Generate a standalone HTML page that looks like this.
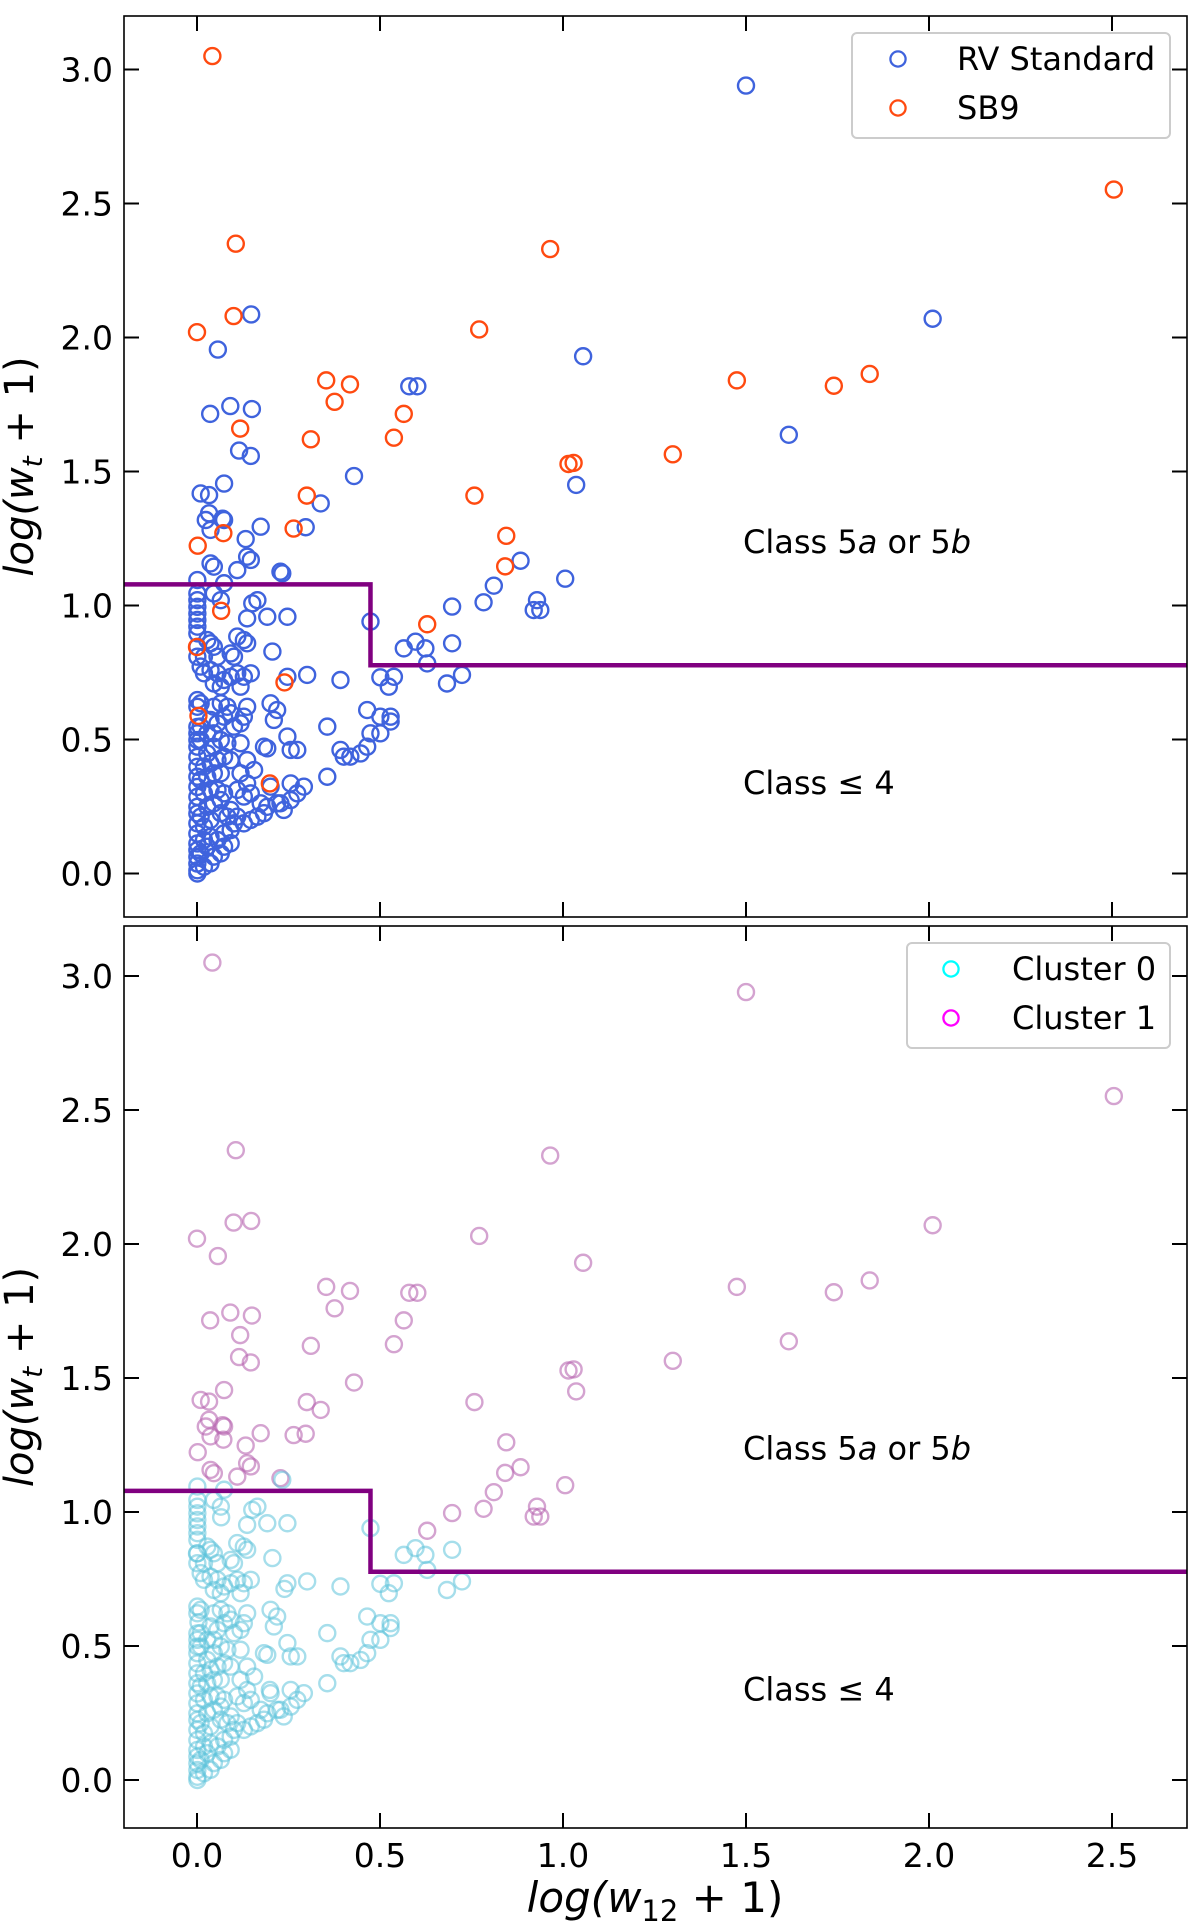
<!DOCTYPE html>
<html><head><meta charset="utf-8"><style>
html,body{margin:0;padding:0;background:#fff;}
svg{display:block;font-family:"DejaVu Sans","Liberation Sans",sans-serif;}
</style></head><body>
<svg id="chart" width="1200" height="1922" viewBox="0 0 1200 1922" xmlns="http://www.w3.org/2000/svg"></svg>
<script>
const rvX=[0.001,0.001,0.001,0.001,0.001,0.001,0.001,0.001,0.001,0.001,0.001,0.001,0.001,0.001,0.001,0.001,0.001,0.001,0.001,0.001,0.001,0.001,0.001,0.001,0.001,0.001,0.001,0.001,0.001,0.001,0.001,
0.019,0.037,0.046,0.065,0.074,0.092,0.028,0.01,0.019,0.037,0.056,0.074,0.092,0.101,0.083,0.065,0.037,0.019,0.01,0.028,0.046,0.065,0.019,0.037,0.056,0.074,0.01,0.028,0.046,0.065,0.019,0.037,0.056,0.074,0.092,0.028,0.046,0.065,0.083,0.01,0.028,0.046,0.119,0.137,0.156,0.119,0.137,0.11,0.128,0.147,0.092,0.11,0.128,0.147,0.165,0.183,0.192,0.219,0.237,0.256,0.274,0.292,0.256,0.228,0.201,0.174,0.183,0.192,0.256,0.274,0.247,0.21,0.219,0.201,0.101,0.119,0.128,0.137,0.083,0.065,0.046,0.01,0.01,0.037,0.056,0.074,0.092,0.356,0.392,0.401,0.419,0.447,0.465,0.474,0.501,0.465,0.501,0.529,0.529,0.356,
0.01,0.019,0.037,0.056,0.046,0.065,0.074,0.092,0.11,0.119,0.128,0.147,0.092,0.101,0.11,0.128,0.137,0.037,0.028,0.046,0.056,0.019,0.192,0.247,0.137,0.206,0.247,0.301,0.392,0.151,0.165,0.065,0.046,0.11,0.046,0.037,0.147,0.137,0.228,0.233,0.074,
0.01,0.033,0.074,0.115,0.147,0.033,0.024,0.037,0.074,0.133,0.174,0.338,0.297,0.429,0.07,
0.474,0.565,0.597,0.624,0.629,0.697,0.501,0.538,0.524,0.683,0.724,0.697,0.783,0.811,0.884,0.929,0.92,0.938,
1.5,2.01,1.617,1.055,1.036,1.006,0.58,0.602,0.148,0.057,0.036,0.091,0.15];
const rvY=[0.0,0.012,0.037,0.062,0.087,0.112,0.149,0.187,0.224,0.249,0.286,0.323,0.361,0.398,0.435,0.473,0.498,0.523,0.547,0.622,0.647,0.809,0.846,0.896,0.921,0.946,0.970,0.995,1.02,1.045,1.095,
0.025,0.038,0.063,0.075,0.1,0.113,0.1,0.075,0.125,0.137,0.125,0.15,0.162,0.187,0.212,0.225,0.2,0.175,0.212,0.249,0.262,0.274,0.299,0.312,0.312,0.299,0.349,0.361,0.374,0.374,0.399,0.411,0.423,0.436,0.423,0.448,0.473,0.498,0.486,0.498,0.523,0.523,0.486,0.423,0.386,0.374,0.336,0.312,0.287,0.299,0.237,0.212,0.187,0.2,0.212,0.225,0.249,0.262,0.237,0.336,0.299,0.324,0.274,0.262,0.324,0.262,0.473,0.467,0.461,0.461,0.511,0.573,0.61,0.635,0.548,0.56,0.585,0.622,0.622,0.635,0.622,0.635,0.548,0.573,0.56,0.585,0.598,0.548,0.461,0.436,0.436,0.448,0.473,0.523,0.523,0.61,0.585,0.585,0.567,0.361,
0.772,0.747,0.759,0.747,0.709,0.697,0.722,0.734,0.747,0.697,0.734,0.747,0.821,0.809,0.884,0.871,0.859,0.859,0.871,0.846,0.809,0.809,0.958,0.958,0.952,0.828,0.734,0.741,0.722,1.008,1.02,1.02,1.045,1.132,1.145,1.157,1.17,1.182,1.126,1.12,1.083,
1.418,1.412,1.455,1.578,1.558,1.344,1.319,1.282,1.319,1.248,1.294,1.381,1.292,1.483,1.324,
0.94,0.84,0.865,0.84,0.784,0.859,0.732,0.734,0.697,0.709,0.741,0.996,1.012,1.074,1.167,1.02,0.983,0.983,
2.94,2.07,1.637,1.93,1.45,1.10,1.818,1.818,2.086,1.955,1.715,1.744,1.733];
const sbX=[0.042,0.106,0.10,0.0,0.965,0.771,0.353,0.418,0.376,0.565,0.538,0.118,0.311,0.30,0.264,0.072,0.002,0.066,0.0,0.004,0.239,0.199,0.629,0.758,0.845,0.842,1.015,1.029,1.3,1.475,1.74,1.838,2.505];
const sbY=[3.05,2.35,2.08,2.02,2.33,2.03,1.84,1.825,1.76,1.715,1.626,1.66,1.62,1.41,1.287,1.27,1.223,0.98,0.845,0.588,0.713,0.336,0.93,1.41,1.26,1.146,1.528,1.532,1.564,1.84,1.82,1.864,2.552];
const xTicks=[0.0,0.5,1.0,1.5,2.0,2.5];
const xTickLabels=["0.0","0.5","1.0","1.5","2.0","2.5"];
const yTicks=[0.0,0.5,1.0,1.5,2.0,2.5,3.0];
const yTickLabels=["0.0","0.5","1.0","1.5","2.0","2.5","3.0"];
const boundaryX=[-0.2,0.474,0.474,2.71];
const boundaryY=[1.079,1.079,0.777,0.777];

const NS="http://www.w3.org/2000/svg";
const svg=document.getElementById('chart');
function mk(tag,attrs,parent){const e=document.createElementNS(NS,tag);for(const k in attrs)e.setAttribute(k,attrs[k]);(parent||svg).appendChild(e);return e;}
const L=124,R=1187;
const xS=v=>197+v*366;
const panels=[{top:16,bot:917,y0:873.5,name:'top'},{top:926,bot:1828,y0:1780,name:'bottom'}];

panels.forEach((p,pi)=>{
  const yS=v=>p.y0-v*268;
  const g=mk('g',{});
  
  
  const cid='clip'+pi;
  const cp=mk('clipPath',{id:cid},g);mk('rect',{x:L,y:p.top,width:R-L,height:p.bot-p.top},cp);
  const pts=mk('g',{'clip-path':'url(#'+cid+')'},g);
  
  
  function dot(x,y,color,op,nm){const c=mk('circle',{cx:xS(x),cy:yS(y),r:8,fill:'none',stroke:color,'stroke-width':2.4,'stroke-opacity':op},pts);
    
    }
  const all=[];
  for(let i=0;i<rvX.length;i++)all.push([rvX[i],rvY[i],'rv']);
  for(let i=0;i<sbX.length;i++)all.push([sbX[i],sbY[i],'sb']);
  if(pi===0){
    all.forEach(d=>dot(d[0],d[1],d[2]==='rv'?'#3f63dd':'#ff4a10',1,d[2]==='rv'?'rv-standard-point':'sb9-point'));
  }else{
    all.forEach(d=>{const c1=(d[1]>1.12)||(d[0]>0.6&&d[1]>0.9);
      dot(d[0],d[1],c1?'#b866b0':'#5cc3da',c1?0.6:0.55,c1?'cluster-1-point':'cluster-0-point');});
  }
  let dstr='';boundaryX.forEach((v,i)=>{dstr+=(i?'L':'M')+xS(v)+' '+yS(boundaryY[i]);});
  const bl=mk('path',{d:dstr,fill:'none',stroke:'#800080','stroke-width':4.5,'clip-path':'url(#'+cid+')'},g);
  
  
  const fr=mk('rect',{x:L,y:p.top,width:R-L,height:p.bot-p.top,fill:'none',stroke:'#000','stroke-width':1.6},g);
  
  
  xTicks.forEach((t,i)=>{const x=xS(t);
    mk('line',{x1:x,x2:x,y1:p.bot,y2:p.bot-15,stroke:'#000','stroke-width':2},g);
    mk('line',{x1:x,x2:x,y1:p.top,y2:p.top+15,stroke:'#000','stroke-width':2},g);
    if(pi===1){const tx=mk('text',{x:x,y:1867,'font-size':33,'text-anchor':'middle',fill:'#000'},g);tx.textContent=xTickLabels[i];
      
      }
  });
  yTicks.forEach((t,i)=>{const y=yS(t);
    mk('line',{x1:L,x2:L+15,y1:y,y2:y,stroke:'#000','stroke-width':2},g);
    mk('line',{x1:R,x2:R-15,y1:y,y2:y,stroke:'#000','stroke-width':2},g);
    const tx=mk('text',{x:113,y:y+12,'font-size':33,'text-anchor':'end',fill:'#000'},g);tx.textContent=yTickLabels[i];
    
    
  });
  const cy=(p.top+p.bot)/2;
  const yl=mk('text',{x:0,y:0,'font-size':40,'text-anchor':'middle','font-style':'italic',transform:'translate(33,'+cy+') rotate(-90)'},g);
  yl.innerHTML='log(w<tspan font-size="28" dy="9">t</tspan><tspan dy="-9" font-style="normal"> + 1)</tspan>';
  
  
  const off=p.y0-873.5;
  const c5=mk('text',{x:743,y:553+off,'font-size':32},g);
  c5.innerHTML='Class 5<tspan font-style="italic">a</tspan> or 5<tspan font-style="italic">b</tspan>';
  
  
  const c4=mk('text',{x:743,y:794+off,'font-size':32},g);
  c4.textContent='Class  \u2264 4';
  
  
  const lg=mk('g',{},g);
  
  
  const lx=pi===0?852:907, lw=pi===0?318:263;
  mk('rect',{x:lx,y:p.top+17,width:lw,height:105,rx:5,fill:'#fff',stroke:'#ccc','stroke-width':2},lg);
  const entries=pi===0?[['RV Standard','#3f63dd'],['SB9','#ff4a10']]:[['Cluster 0','#00ffff'],['Cluster 1','#ff00ff']];
  const mx=pi===0?898:951, txx=pi===0?957:1012;
  entries.forEach((e,k)=>{const yy=p.top+43+k*49;
    const m=mk('circle',{cx:mx,cy:yy,r:7.6,fill:'none',stroke:e[1],'stroke-width':2.3},lg);
    
    
    const t=mk('text',{x:txx,y:yy+11,'font-size':32},lg);t.textContent=e[0];
    
    
  });
});
const xl=mk('text',{x:655,y:1912,'font-size':42,'text-anchor':'middle','font-style':'italic'});
xl.innerHTML='log(w<tspan font-size="29" dy="9" font-style="normal">12</tspan><tspan dy="-9" font-style="normal"> + 1)</tspan>';


</script>
</body></html>
